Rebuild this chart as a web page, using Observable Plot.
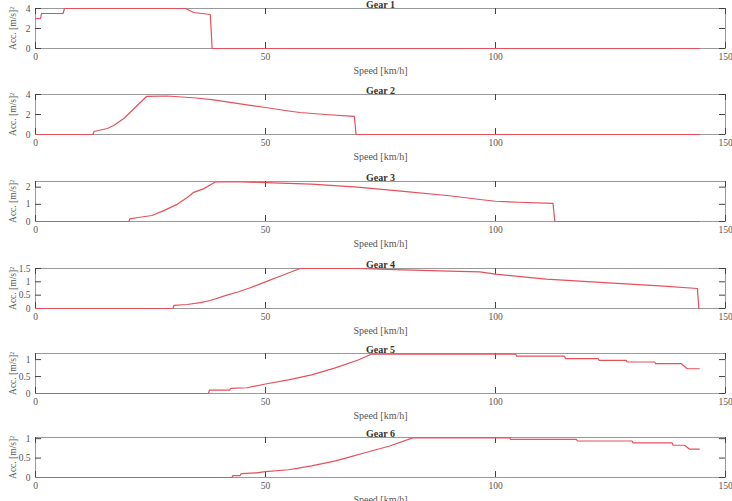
<!DOCTYPE html>
<html>
<head>
<meta charset="utf-8">
<script src="https://cdn.jsdelivr.net/npm/d3@7"></script>
<script src="https://cdn.jsdelivr.net/npm/@observablehq/plot@0.6"></script>
<style>
  html, body { margin: 0; padding: 0; background: #fff; }
  #charts svg { display: block; }
</style>
</head>
<body>
<div id="charts"></div>
<script>
// Acceleration available in each gear versus vehicle speed: [speed km/h, acc m/s²]
const gear1 = [[0,3.0],[1.1,3.0],[1.3,3.5],[6.0,3.5],[6.3,4.0],[32.6,4.0],[34.4,3.6],[38.0,3.4],[38.4,0],[144.4,0]];
const gear2 = [[0,0],[12.5,0],[12.7,0.3],[15.6,0.6],[17,0.9],[19.2,1.6],[21,2.4],[22,2.85],[24.2,3.82],[28.6,3.85],[35,3.65],[38.7,3.47],[46.7,2.92],[50,2.7],[55,2.35],[57.5,2.2],[63,2.0],[69.3,1.82],[69.7,0],[144.4,0]];
const gear3 = [[0,0],[20.3,0],[20.5,0.15],[22,0.22],[25.3,0.35],[28,0.65],[30.8,1.0],[33,1.4],[34.4,1.7],[36.5,1.9],[39.1,2.3],[45,2.3],[50,2.27],[60,2.18],[70,2.0],[80,1.76],[90,1.5],[96.6,1.28],[100,1.18],[105,1.12],[112.5,1.05],[112.9,0],[144.4,0]];
const gear4 = [[0,0],[29.9,0],[30.1,0.12],[33,0.15],[35.8,0.22],[38,0.3],[41.6,0.5],[44,0.62],[46.7,0.78],[50,1.0],[53,1.2],[57.5,1.5],[70,1.5],[80,1.45],[90,1.4],[96.6,1.37],[100,1.29],[111,1.1],[125.5,0.95],[135.7,0.85],[143.9,0.75],[144.2,0]];
const gear5 = [[0,0],[37.6,0],[37.8,0.1],[42.2,0.1],[42.4,0.15],[46,0.17],[50,0.28],[55,0.4],[60,0.55],[65,0.75],[70,0.98],[73,1.16],[104.4,1.16],[104.6,1.1],[115,1.1],[115.2,1.03],[122.3,1.03],[122.5,0.98],[128.4,0.98],[128.6,0.93],[134.6,0.93],[134.8,0.88],[140.4,0.88],[141.7,0.73],[144.3,0.73]];
const gear6 = [[0,0],[42.7,0],[42.9,0.05],[44.5,0.05],[44.7,0.1],[48,0.12],[50,0.15],[55,0.2],[57.5,0.25],[60,0.3],[65,0.42],[68.4,0.53],[72,0.65],[77,0.81],[82,1.02],[103.1,1.02],[103.3,0.98],[117.6,0.98],[117.8,0.94],[129.7,0.94],[129.9,0.89],[138.4,0.89],[138.6,0.83],[141.1,0.83],[142.2,0.73],[144.3,0.73]];

const gearNames = ["Gear 1", "Gear 2", "Gear 3", "Gear 4", "Gear 5", "Gear 6"];
const gearData = [gear1, gear2, gear3, gear4, gear5, gear6];
const yMax = [4, 4, 2.33, 1.5, 1.18, 1.03];
const yTicks = [[0, 2, 4], [0, 2, 4], [0, 1, 2], [0, 0.5, 1, 1.5], [0, 0.5, 1], [0, 0.5, 1]];
const xTicks = [0, 50, 100, 150];
const xDomain = [0, 150];
const xLabel = "Speed [km/h]";
const yLabel = "Acc. [m/s]²";

// panel heights (the last panel runs off the bottom of the page)
const panelHeights = [86, 87, 87, 85, 84, 72];
const boxHeight = 40, marginTop = 8, marginLeft = 35, marginRight = 7, width = 732;
const tickLen = 6;
const fmt = d => String(d);

const root = document.getElementById("charts");
gearData.forEach((rows, i) => {
  const h = panelHeights[i];
  const ym = yMax[i];
  const plotW = width - marginLeft - marginRight;
  const dyTick = ym * tickLen / boxHeight;
  const dxTick = (xDomain[1] - xDomain[0]) * tickLen / plotW;
  const chart = Plot.plot({
    width,
    height: h,
    marginTop,
    marginLeft,
    marginRight,
    marginBottom: h - marginTop - boxHeight,
    style: {fontFamily: "'Liberation Serif', 'DejaVu Serif', serif", fontSize: "9.5px", color: "#555", background: "transparent", overflow: "visible"},
    x: {domain: xDomain},
    y: {domain: [0, ym]},
    marks: [
      Plot.frame({stroke: "#999"}),
      // inward tick marks on all four sides
      Plot.ruleX(xTicks, {x: d => d, y1: 0, y2: dyTick, stroke: "#444"}),
      Plot.ruleX(xTicks, {x: d => d, y1: ym, y2: ym - dyTick, stroke: "#444"}),
      Plot.ruleY(yTicks[i], {y: d => d, x1: xDomain[0], x2: xDomain[0] + dxTick, stroke: "#444"}),
      Plot.ruleY(yTicks[i], {y: d => d, x1: xDomain[1], x2: xDomain[1] - dxTick, stroke: "#444"}),
      Plot.axisX({ticks: xTicks, tickFormat: fmt, tickSize: 0, tickPadding: 5, label: null, fill: "#555"}),
      Plot.axisY({ticks: yTicks[i], tickFormat: fmt, tickSize: 0, tickPadding: 5, label: null, fill: "#555"}),
      Plot.line(rows, {x: d => d[0], y: d => d[1], stroke: "#e5505c", strokeWidth: 1.2}),
      Plot.text([gearNames[i]], {text: d => d, frameAnchor: "top", dy: -1, lineAnchor: "bottom", fontWeight: "bold", fontSize: 10, fill: "#333"}),
      Plot.text([xLabel], {text: d => d, frameAnchor: "bottom", dy: 25, fontSize: 10, fill: "#555"}),
      Plot.text([yLabel], {text: d => d, frameAnchor: "left", textAnchor: "middle", dx: -23, rotate: -90, fontSize: 9.5, fill: "#555"})
    ]
  });
  root.appendChild(chart);
});
</script>
</body>
</html>
